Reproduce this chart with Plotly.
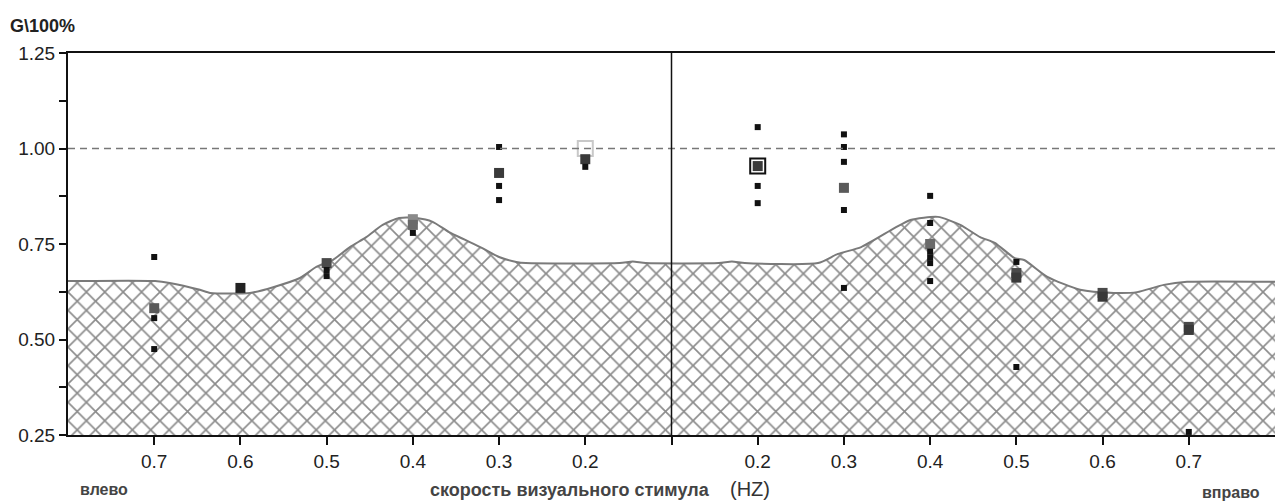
import plotly.graph_objects as go

# ---------------- data ----------------
tick_labels = ["0.7", "0.6", "0.5", "0.4", "0.3", "0.2", "",
               "0.2", "0.3", "0.4", "0.5", "0.6", "0.7"]
tick_positions = list(range(1, len(tick_labels) + 1))

# threshold curve (hatched area): x in category units, y = G/100%
curve_x = [0.0, 1.01, 1.18, 1.53, 1.65, 2.11, 2.38, 2.69, 2.88, 3.07, 3.27, 3.46,
           3.65, 3.84, 4.04, 4.23, 4.42, 4.80, 5.00, 5.20, 5.31, 6.40, 6.55, 6.70,
           7.55, 7.70, 7.85, 8.70, 8.93, 9.20, 9.59, 9.77, 10.09, 10.35, 10.58,
           10.75, 10.98, 11.09, 11.36, 11.74, 12.13, 12.40, 12.71, 12.98, 14.0]
curve_y = [0.653, 0.653, 0.648, 0.630, 0.622, 0.622, 0.637, 0.661, 0.690, 0.708,
           0.742, 0.768, 0.800, 0.818, 0.818, 0.808, 0.781, 0.740, 0.716, 0.703,
           0.700, 0.700, 0.704, 0.700, 0.700, 0.704, 0.700, 0.700, 0.724, 0.742,
           0.792, 0.813, 0.821, 0.800, 0.768, 0.753, 0.713, 0.708, 0.664, 0.630,
           0.622, 0.624, 0.643, 0.651, 0.651]

# individual measurements (category index, value)
ind_cat = [1, 1, 1, 3, 3, 4, 5, 5, 5, 6,
           8, 8, 8, 9, 9, 9, 9, 9, 10, 10, 10, 10, 10, 10, 11, 11, 13]
ind_val = [0.716, 0.556, 0.475, 0.682, 0.666, 0.779, 1.004, 0.902, 0.865, 0.952,
           1.056, 0.902, 0.857, 1.037, 1.004, 0.965, 0.839, 0.635,
           0.876, 0.805, 0.730, 0.715, 0.700, 0.653, 0.703, 0.428, 0.258]

# averaged values (category index, value)
mean_cat = [1, 2, 3, 4, 4, 5, 6, 8, 9, 10, 11, 11, 12, 12, 13, 13]
mean_val = [0.582, 0.635, 0.700, 0.815, 0.800, 0.936, 0.972, 0.954, 0.897, 0.750,
            0.674, 0.662, 0.622, 0.612, 0.533, 0.525]

# open (boxed) markers
open_cat = [6, 8]
open_val = [1.000, 0.954]

y_tick_vals = [0.25, 0.375, 0.50, 0.625, 0.75, 0.875, 1.00, 1.125, 1.25]
y_tick_text = ["0.25", "", "0.50", "", "0.75", "", "1.00", "", "1.25"]

# ---------------- styles ----------------
mean_colors = ["#5a5a5a", "#222222", "#4a4a4a", "#8a8a8a", "#6a6a6a", "#3a3a3a",
               "#3a3a3a", "#3a3a3a", "#5a5a5a", "#6a6a6a", "#4a4a4a", "#3a3a3a",
               "#4a4a4a", "#3a3a3a", "#4a4a4a", "#3a3a3a"]
open_colors = ["#c8c8c8", "#111111"]

FONT = "Liberation Sans, Arial, sans-serif"

fig = go.Figure()

fig.add_trace(go.Scatter(
    x=curve_x, y=curve_y, mode="lines",
    line=dict(color="#7a7a7a", width=2, shape="spline", smoothing=0.6),
    fill="tozeroy",
    fillcolor="white",
    fillpattern=dict(shape="x", size=13, solidity=0.24, fgcolor="#8c8c8c",
                     bgcolor="white", fillmode="replace"),
    hoverinfo="skip", showlegend=False))

fig.add_trace(go.Scatter(
    x=open_cat, y=open_val, mode="markers",
    marker=dict(symbol="square-open", size=15, color=open_colors,
                line=dict(width=2, color=open_colors)),
    showlegend=False))

fig.add_trace(go.Scatter(
    x=mean_cat, y=mean_val, mode="markers",
    marker=dict(symbol="square", size=10, color=mean_colors, line=dict(width=0)),
    showlegend=False))

fig.add_trace(go.Scatter(
    x=ind_cat, y=ind_val, mode="markers",
    marker=dict(symbol="square", size=6, color="#111111", line=dict(width=0)),
    showlegend=False))

# reference lines
fig.add_shape(type="line", xref="x", yref="y", x0=0, x1=14, y0=1.0, y1=1.0,
              line=dict(color="#777777", width=1.5, dash="7px,5px"), layer="above")
fig.add_shape(type="line", xref="x", yref="y", x0=7, x1=7, y0=0.25, y1=1.25,
              line=dict(color="#111111", width=1.5), layer="above")

fig.update_xaxes(
    range=[0, 14], tickmode="array", tickvals=tick_positions, ticktext=tick_labels,
    ticks="outside", ticklen=8, tickwidth=1.5, tickcolor="#111",
    showline=True, linewidth=2, linecolor="#111", mirror=True,
    showgrid=False, zeroline=False,
    tickfont=dict(family=FONT, size=19, color="#222"))
fig.update_yaxes(
    range=[0.25, 1.25], tickmode="array", tickvals=y_tick_vals, ticktext=y_tick_text,
    ticks="outside", ticklen=7, tickwidth=1.5, tickcolor="#111",
    showline=True, linewidth=2, linecolor="#111",
    showgrid=False, zeroline=False,
    tickfont=dict(family=FONT, size=19, color="#222"))

def px2paper_x(px):
    return (px - 68) / 1207

def px2paper_y(py):
    return (435 - py) / 382

annots = [
    dict(text="<b>G\\100%</b>", x=px2paper_x(8), y=px2paper_y(26), xanchor="left",
         size=18, color="#222"),
    dict(text="<b>влево</b>", x=px2paper_x(78), y=px2paper_y(489), xanchor="left",
         size=16, color="#444"),
    dict(text="<b>скорость визуального стимула</b>", x=px2paper_x(428), y=px2paper_y(490),
         xanchor="left", size=18, color="#444"),
    dict(text="(HZ)", x=px2paper_x(728), y=px2paper_y(489), xanchor="left",
         size=20, color="#333"),
    dict(text="<b>вправо</b>", x=px2paper_x(1200), y=px2paper_y(492), xanchor="left",
         size=16, color="#444"),
]
for a in annots:
    fig.add_annotation(text=a["text"], xref="paper", yref="paper", x=a["x"], y=a["y"],
                       xanchor=a["xanchor"], yanchor="middle", showarrow=False,
                       font=dict(family=FONT, size=a["size"], color=a["color"]))

fig.update_layout(
    width=1275, height=503,
    margin=dict(l=68, r=0, t=53, b=68),
    paper_bgcolor="white", plot_bgcolor="white",
    showlegend=False)

fig.write_html(
    "out.html",
    config={"displayModeBar": False},
    post_script="document.body.style.margin='0';document.body.style.overflow='hidden';")
